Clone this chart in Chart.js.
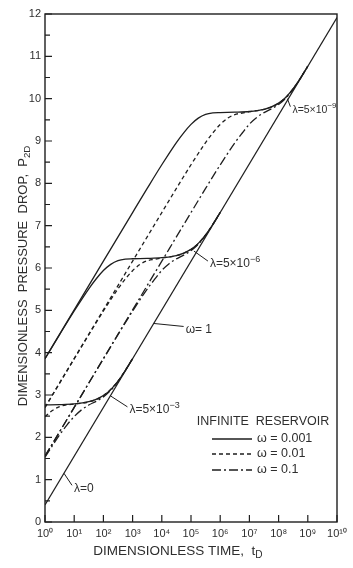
<!DOCTYPE html>
<html>
<head>
<meta charset="utf-8">
<script src="https://cdn.jsdelivr.net/npm/chart.js@4.4.0/dist/chart.umd.min.js"></script>
<style>
  html, body { margin: 0; padding: 0; background: #fff; }
  canvas { display: block; }
</style>
</head>
<body>
<canvas id="pdChart" width="353" height="568"></canvas>
<script>
// --- data (tD, pD) ---

// omega = 1 (lambda = 0) semilog straight line
const omegaOneT = [1e0, 1e10];
const omegaOneP = [0.405, 11.918];

// lambda = 5e-3
const tA1 = [1, 3.16, 10, 31.6, 56.2, 100, 178, 316, 562, 1e3];
const pA1 = [2.767, 2.772, 2.789, 2.841, 2.898, 2.987, 3.127, 3.327, 3.579, 3.859];
const tA2 = [1, 1.78, 3.16, 5.62, 10, 31.6, 100, 316, 1e3];
const pA2 = [2.486, 2.634, 2.725, 2.766, 2.784, 2.837, 2.984, 3.326, 3.859];
const tA3 = [1, 1.78, 3.16, 5.62, 10, 17.8, 31.6, 56.2, 100, 178, 316, 562, 1e3];
const pA3 = [1.531, 1.800, 2.056, 2.290, 2.490, 2.649, 2.763, 2.851, 2.956, 3.107, 3.317, 3.576, 3.859];

// lambda = 5e-6
const tB1 = [1, 3.16, 10, 31.6, 56.2, 100, 178, 316, 562, 1e3, 3.16e3, 1e4, 3.16e4, 5.62e4, 1e5, 1.78e5, 3.16e5, 5.62e5, 1e6];
const pB1 = [3.856, 4.426, 4.985, 5.509, 5.740, 5.939, 6.086, 6.174, 6.210, 6.218, 6.226, 6.243, 6.295, 6.352, 6.441, 6.581, 6.781, 7.033, 7.313];
const tB2 = [1, 3.16, 10, 31.6, 100, 316, 562, 1e3, 1.78e3, 3.16e3, 5.62e3, 1e4, 3.16e4, 5.62e4, 1e5, 1.78e5, 3.16e5, 5.62e5, 1e6];
const pB2 = [2.707, 3.282, 3.856, 4.426, 4.985, 5.508, 5.739, 5.937, 6.083, 6.171, 6.206, 6.238, 6.291, 6.348, 6.438, 6.579, 6.780, 7.032, 7.312];
const tB3 = [1, 10, 100, 316, 1e3, 3.16e3, 5.62e3, 1e4, 1.78e4, 3.16e4, 5.62e4, 1e5, 1.78e5, 3.16e5, 5.62e5, 1e6];
const pB3 = [1.556, 2.707, 3.856, 4.425, 4.982, 5.501, 5.729, 5.944, 6.103, 6.216, 6.305, 6.410, 6.561, 6.771, 7.030, 7.312];

// lambda = 5e-9
const tC1 = [1, 10, 100, 1e3, 3.16e3, 1e4, 3.16e4, 5.62e4, 1e5, 1.78e5, 3.16e5, 5.62e5, 1e6, 3.16e6, 1e7, 3.16e7, 5.62e7, 1e8, 1.78e8, 3.16e8, 5.62e8, 1e9];
const pC1 = [3.858, 5.010, 6.161, 7.310, 7.880, 8.439, 8.963, 9.194, 9.393, 9.540, 9.628, 9.664, 9.672, 9.680, 9.697, 9.749, 9.806, 9.895, 10.035, 10.235, 10.487, 10.767];
const tC2 = [1, 10, 100, 1e3, 3.16e3, 1e4, 3.16e4, 1e5, 3.16e5, 5.62e5, 1e6, 1.78e6, 3.16e6, 5.62e6, 1e7, 3.16e7, 5.62e7, 1e8, 1.78e8, 3.16e8, 5.62e8, 1e9];
const pC2 = [2.707, 3.858, 5.010, 6.161, 6.736, 7.310, 7.880, 8.439, 8.962, 9.193, 9.391, 9.537, 9.625, 9.660, 9.692, 9.745, 9.802, 9.892, 10.033, 10.234, 10.486, 10.766];
const tC3 = [1, 10, 100, 1e3, 1e4, 1e5, 3.16e5, 1e6, 3.16e6, 5.62e6, 1e7, 1.78e7, 3.16e7, 5.62e7, 1e8, 1.78e8, 3.16e8, 5.62e8, 1e9];
const pC3 = [1.556, 2.707, 3.858, 5.010, 6.161, 7.310, 7.879, 8.436, 8.955, 9.183, 9.398, 9.557, 9.670, 9.759, 9.864, 10.015, 10.225, 10.484, 10.766];

// axes
const xTickValues = [1e0, 1e1, 1e2, 1e3, 1e4, 1e5, 1e6, 1e7, 1e8, 1e9, 1e10];
const xTickLabels = ['10\u2070', '10\u00b9', '10\u00b2', '10\u00b3', '10\u2074', '10\u2075', '10\u2076', '10\u2077', '10\u2078', '10\u2079', '10\u00b9\u2070'];
const legendLabels = ['\u03c9 = 0.001', '\u03c9 = 0.01', '\u03c9 = 0.1'];

// --- styles ---
const ink = '#1e1e1e';
const textInk = '#2e2e2e';
const fontFam = '"Liberation Sans", Arial, sans-serif';
const solid = [];
const dashed = [4, 3];
const dashDot = [9, 3, 2, 3];

function pts(ts, ps) {
    return ts.map(function(t, i) { return { x: t, y: ps[i] }; });
}

function curve(label, ts, ps, dash, width) {
    return {
        label: label,
        data: pts(ts, ps),
        borderColor: ink,
        borderWidth: width || 1.3,
        borderDash: dash,
        pointRadius: 0,
        fill: false,
        cubicInterpolationMode: 'monotone'
    };
}

// text with a subscript part, centred on x
function subText(ctx, main, sub, x, y, size) {
    ctx.font = size + 'px ' + fontFam;
    const w1 = ctx.measureText(main).width;
    ctx.font = (size * 0.75) + 'px ' + fontFam;
    const w2 = ctx.measureText(sub).width;
    const x0 = x - (w1 + w2) / 2;
    ctx.textAlign = 'left';
    ctx.textBaseline = 'middle';
    ctx.font = size + 'px ' + fontFam;
    ctx.fillText(main, x0, y);
    ctx.font = (size * 0.75) + 'px ' + fontFam;
    ctx.fillText(sub, x0 + w1, y + size * 0.3);
}

// text with a superscript part, left aligned
function supText(ctx, main, sup, x, y, size) {
    ctx.textAlign = 'left';
    ctx.textBaseline = 'middle';
    ctx.font = size + 'px ' + fontFam;
    ctx.fillText(main, x, y);
    const w1 = ctx.measureText(main).width;
    ctx.font = (size * 0.75) + 'px ' + fontFam;
    ctx.fillText(sup, x + w1, y - size * 0.4);
}

const notes = [
    { t: 4.47,   p: 1.15,  dx: 8,  dy: 12, size: 12,   text: '\u03bb=0', sup: '' },
    { t: 5250,   p: 4.69,  dx: 30, dy: 3,  size: 12,   text: '\u03c9= 1', sup: '' },
    { t: 174,    p: 2.98,  dx: 17, dy: 11, size: 12,   text: '\u03bb=5\u00d710', sup: '\u22123' },
    { t: 1.26e5, p: 6.40,  dx: 14, dy: 10, size: 12,   text: '\u03bb=5\u00d710', sup: '\u22126' },
    { t: 2.0e8,  p: 10.0,  dx: 3,  dy: 8,  size: 10.5, text: '\u03bb=5\u00d710', sup: '\u22129' }
];

const decorPlugin = {
    id: 'decor',
    beforeDraw: function(chart) {
        const ctx = chart.ctx;
        ctx.save();
        ctx.fillStyle = '#fff';
        ctx.fillRect(0, 0, chart.width, chart.height);
        ctx.restore();
    },
    afterDraw: function(chart) {
        const ctx = chart.ctx;
        const a = chart.chartArea;
        const xs = chart.scales.x;
        const ys = chart.scales.y;
        ctx.save();
        ctx.strokeStyle = ink;
        ctx.fillStyle = textInk;

        // frame
        ctx.lineWidth = 1.4;
        ctx.setLineDash([]);
        ctx.strokeRect(a.left, a.top, a.right - a.left, a.bottom - a.top);

        // inward ticks
        ctx.lineWidth = 1.2;
        ctx.beginPath();
        ys.ticks.forEach(function(tk) {
            const y = ys.getPixelForValue(tk.value);
            ctx.moveTo(a.left, y); ctx.lineTo(a.left + 7, y);
            if (tk.value < ys.max) {
                const ym = ys.getPixelForValue(tk.value + 0.5);
                ctx.moveTo(a.left, ym); ctx.lineTo(a.left + 5, ym);
            }
        });
        xs.ticks.forEach(function(tk) {
            const x = xs.getPixelForValue(tk.value);
            ctx.moveTo(x, a.bottom); ctx.lineTo(x, a.bottom - 7);
        });
        ctx.stroke();

        // axis titles
        subText(ctx, 'DIMENSIONLESS TIME,  t', 'D', 178, 551, 13.5);
        ctx.save();
        ctx.translate(23, 276);
        ctx.rotate(-Math.PI / 2);
        subText(ctx, 'DIMENSIONLESS  PRESSURE  DROP,  P', '2D', 0, 0, 13);
        ctx.restore();

        // annotations with leader lines
        ctx.lineWidth = 1;
        notes.forEach(function(n) {
            const x0 = xs.getPixelForValue(n.t);
            const y0 = ys.getPixelForValue(n.p);
            const x1 = x0 + n.dx, y1 = y0 + n.dy;
            ctx.beginPath();
            ctx.moveTo(x0, y0); ctx.lineTo(x1, y1);
            ctx.stroke();
            supText(ctx, n.text, n.sup, x1 + 2, y1 + 3, n.size);
        });

        // legend
        ctx.font = '12.5px ' + fontFam;
        ctx.textAlign = 'center';
        ctx.textBaseline = 'middle';
        ctx.fillText('INFINITE  RESERVOIR', 263, 422);
        const dashes = [solid, dashed, dashDot];
        const rows = [439, 454, 470];
        ctx.lineWidth = 1.3;
        rows.forEach(function(y, i) {
            ctx.setLineDash(dashes[i]);
            ctx.beginPath();
            ctx.moveTo(212, y); ctx.lineTo(252, y);
            ctx.stroke();
            ctx.setLineDash([]);
            ctx.font = '12.5px ' + fontFam;
            ctx.textAlign = 'left';
            ctx.fillText(legendLabels[i], 257, y);
        });
        ctx.restore();
    }
};

const ctx = document.getElementById('pdChart').getContext('2d');
new Chart(ctx, {
    type: 'line',
    data: {
        datasets: [
            curve('\u03c9=1', omegaOneT, omegaOneP, solid, 1.2),
            curve('\u03bb=5e-3 \u03c9=0.001', tA1, pA1, solid),
            curve('\u03bb=5e-3 \u03c9=0.01', tA2, pA2, dashed),
            curve('\u03bb=5e-3 \u03c9=0.1', tA3, pA3, dashDot),
            curve('\u03bb=5e-6 \u03c9=0.001', tB1, pB1, solid),
            curve('\u03bb=5e-6 \u03c9=0.01', tB2, pB2, dashed),
            curve('\u03bb=5e-6 \u03c9=0.1', tB3, pB3, dashDot),
            curve('\u03bb=5e-9 \u03c9=0.001', tC1, pC1, solid),
            curve('\u03bb=5e-9 \u03c9=0.01', tC2, pC2, dashed),
            curve('\u03bb=5e-9 \u03c9=0.1', tC3, pC3, dashDot)
        ]
    },
    options: {
        responsive: false,
        animation: false,
        layout: { padding: { top: 14, right: 16, left: 0, bottom: 0 } },
        plugins: {
            legend: { display: false },
            tooltip: { enabled: false }
        },
        scales: {
            x: {
                type: 'logarithmic',
                min: 1,
                max: 1e10,
                afterBuildTicks: function(scale) {
                    scale.ticks = xTickValues.map(function(v) { return { value: v }; });
                },
                afterFit: function(scale) { scale.height = 46; },
                grid: { display: false, drawTicks: false },
                border: { display: false },
                ticks: {
                    autoSkip: false,
                    maxRotation: 0,
                    padding: 5,
                    color: textInk,
                    font: { family: fontFam, size: 11 },
                    callback: function(value, index) { return xTickLabels[index]; }
                }
            },
            y: {
                min: 0,
                max: 12,
                afterFit: function(scale) { scale.width = 45; },
                grid: { display: false, drawTicks: false },
                border: { display: false },
                ticks: {
                    stepSize: 1,
                    padding: 4,
                    color: textInk,
                    font: { family: fontFam, size: 11 }
                }
            }
        }
    },
    plugins: [decorPlugin]
});
</script>
</body>
</html>
